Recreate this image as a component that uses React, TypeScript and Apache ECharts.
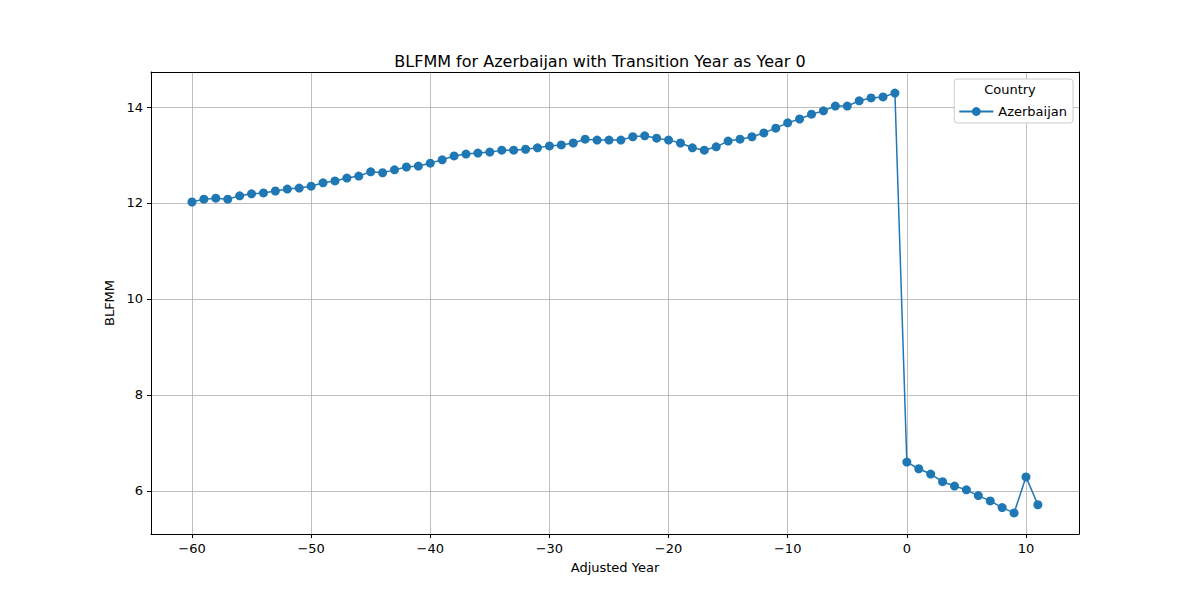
import React, { useEffect, useRef } from 'react'
import * as echarts from 'echarts'

const years = [
  -60, -59, -58, -57, -56, -55, -54, -53, -52, -51, -50, -49, -48, -47, -46, -45, -44, -43, -42, -41,
  -40, -39, -38, -37, -36, -35, -34, -33, -32, -31, -30, -29, -28, -27, -26, -25, -24, -23, -22, -21,
  -20, -19, -18, -17, -16, -15, -14, -13, -12, -11, -10, -9, -8, -7, -6, -5, -4, -3, -2, -1,
  0, 1, 2, 3, 4, 5, 6, 7, 8, 9, 10, 11,
]
const blfmm = [
  12.02, 12.08, 12.1, 12.08, 12.15, 12.19, 12.21, 12.25, 12.29, 12.31, 12.35, 12.42, 12.46, 12.52, 12.56, 12.65, 12.63, 12.69, 12.75, 12.77,
  12.83, 12.9, 12.98, 13.02, 13.04, 13.06, 13.1, 13.1, 13.12, 13.15, 13.19, 13.21, 13.25, 13.33, 13.31, 13.31, 13.31, 13.38, 13.4, 13.35,
  13.31, 13.25, 13.15, 13.1, 13.17, 13.29, 13.33, 13.38, 13.46, 13.56, 13.67, 13.75, 13.85, 13.92, 14.02, 14.02, 14.13, 14.19, 14.21, 14.29,
  6.6, 6.46, 6.35, 6.19, 6.1, 6.02, 5.9, 5.79, 5.65, 5.54, 6.29, 5.71,
]
const xTicks = [-60, -50, -40, -30, -20, -10, 0, 10]
const yTicks = [6, 8, 10, 12, 14]

const FONT = 'DejaVu Sans'
const fmt = (v: number) => String(v).replace('-', '\u2212')
const X_MIN = -63.44
const X_MAX = 14.45
const Y_MIN = 5.1
const Y_MAX = 14.73

const App: React.FC = () => {
  const ref = useRef<HTMLDivElement>(null)

  useEffect(() => {
    if (!ref.current) return
    const chart = echarts.init(ref.current, undefined, { renderer: 'svg' })
    const axisCommon = {
      type: 'value',
      nameLocation: 'center',
      nameTextStyle: { color: '#000', fontSize: 13, fontFamily: FONT },
      axisLine: { show: true, onZero: false, lineStyle: { color: '#000' } },
      axisTick: { show: true, lineStyle: { color: '#000' }, length: 4 },
      splitLine: { show: false },
    }
    const frame = {
      type: 'value',
      axisLine: { show: true, onZero: false, lineStyle: { color: '#000' } },
      axisTick: { show: false },
      axisLabel: { show: false },
      splitLine: { show: false },
    }
    chart.setOption({
      animation: false,
      backgroundColor: '#fff',
      title: {
        text: 'BLFMM for Azerbaijan with Transition Year as Year 0',
        left: 'center',
        top: 48,
        textStyle: { fontSize: 16, fontWeight: 'normal', color: '#000', fontFamily: FONT },
      },
      grid: { left: 151, right: 121, top: 72, bottom: 66 },
      xAxis: [
        {
          ...axisCommon,
          name: 'Adjusted Year',
          nameGap: 27,
          min: X_MIN,
          max: X_MAX,
          axisTick: { ...axisCommon.axisTick, customValues: xTicks },
          axisLabel: { customValues: xTicks, formatter: fmt, color: '#000', fontSize: 13, fontFamily: FONT, margin: 8 },
        },
        { ...frame, position: 'top', min: X_MIN, max: X_MAX },
      ],
      yAxis: [
        {
          ...axisCommon,
          name: 'BLFMM',
          nameGap: 35,
          min: Y_MIN,
          max: Y_MAX,
          axisTick: { ...axisCommon.axisTick, customValues: yTicks },
          axisLabel: { customValues: yTicks, formatter: fmt, color: '#000', fontSize: 13, fontFamily: FONT, margin: 8 },
        },
        { ...frame, position: 'right', min: Y_MIN, max: Y_MAX },
      ],
      legend: {
        right: 127,
        top: 79,
        orient: 'vertical',
        data: ['Azerbaijan'],
        borderColor: '#ccc',
        borderWidth: 1,
        borderRadius: 3,
        backgroundColor: '#fff',
        padding: [26, 6, 5, 4],
        itemWidth: 34,
        itemHeight: 11,
        itemGap: 0,
        textStyle: { fontSize: 13, fontFamily: FONT, color: '#000' },
      },
      graphic: [
        {
          type: 'text',
          x: 1010,
          y: 83,
          z: 100,
          style: { text: 'Country', fontSize: 13, fontFamily: FONT, fill: '#000', textAlign: 'center' },
        },
      ],
      series: [
        {
          name: 'Azerbaijan',
          type: 'line',
          data: years.map((y, i) => [y, blfmm[i]]),
          symbol: 'circle',
          symbolSize: 9,
          showAllSymbol: true,
          lineStyle: { color: '#1f77b4', width: 1.5 },
          itemStyle: { color: '#1f77b4' },
          markLine: {
            silent: true,
            symbol: 'none',
            label: { show: false },
            lineStyle: { color: '#b0b0b0', width: 0.8, type: 'solid' },
            data: [
              ...xTicks.map((v) => ({ xAxis: v })),
              ...yTicks.map((v) => ({ yAxis: v })),
            ],
            z: 0,
          },
        },
      ],
    })
    return () => chart.dispose()
  }, [])

  return <div ref={ref} style={{ width: 1200, height: 600, margin: -8 }} />
}

export default App
